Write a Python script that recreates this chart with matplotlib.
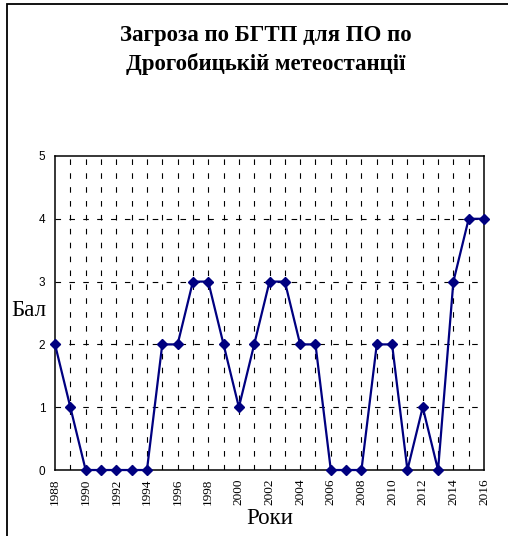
import numpy as np
import matplotlib.pyplot as plt
from matplotlib.patches import Rectangle

# Years and threat score
years = list(range(1988, 2017))
scores = [2, 1, 0, 0, 0, 0, 0, 2, 2, 3, 3, 2, 1, 2, 3, 3, 2, 2, 0, 0, 0, 2, 2, 0, 1, 0, 3, 4, 4]
year_labels = [str(y) for y in range(1988, 2017, 2)]
score_ticks = [0, 1, 2, 3, 4, 5]

serif = 'Liberation Serif'
sans = 'Liberation Sans'

fig = plt.figure(figsize=(5.08, 5.36), dpi=100)
ax = fig.add_axes([0.1083, 0.1231, 0.8445, 0.5859])

# frame around the whole chart area
fig.patches.append(Rectangle((7 / 508, -0.05), 1.2, 1.05 - 4 / 536,
                             transform=fig.transFigure, fill=False,
                             edgecolor='black', linewidth=1.3))

ax.plot(years, scores, color='#000080', linewidth=1.6, marker='D',
        markersize=5.5, clip_on=False, zorder=3)

ax.set_xlim(1988, 2016)
ax.set_ylim(0, 5)

# dashed grid: every year vertically, every score horizontally
for y in years[1:-1]:
    ax.axvline(y, color='black', linewidth=0.8, linestyle=(0, (5, 7.5)), zorder=1)
for s in score_ticks[1:-1]:
    ax.axhline(s, color='black', linewidth=0.8, linestyle=(0, (5, 7.5)), zorder=1)

ax.set_xticks(range(1988, 2017, 2))
ax.set_xticklabels(year_labels, rotation=90, family=serif, fontsize=9.5)
ax.set_yticks(score_ticks)
ax.set_yticklabels([str(s) for s in score_ticks], family=sans, fontsize=8.5)
ax.tick_params(length=0, pad=7)
ax.tick_params(axis='x', pad=6)

for sp in ax.spines.values():
    sp.set_linewidth(1.1)

fig.text(0.523, 1 - 41 / 536, 'Загроза по БГТП для ПО по', ha='center', va='baseline',
         family=serif, fontweight='bold', fontsize=16.5)
fig.text(0.523, 1 - 70 / 536, 'Дрогобицькій метеостанції', ha='center', va='baseline',
         family=serif, fontweight='bold', fontsize=16.5)

fig.text(29 / 508, 1 - 311 / 536, 'Бал', ha='center', va='center',
         family=serif, fontsize=16.5)
fig.text(270 / 508, 1 - 518 / 536, 'Роки', ha='center', va='center',
         family=serif, fontsize=16.5)

plt.savefig('out.png', dpi=100)
